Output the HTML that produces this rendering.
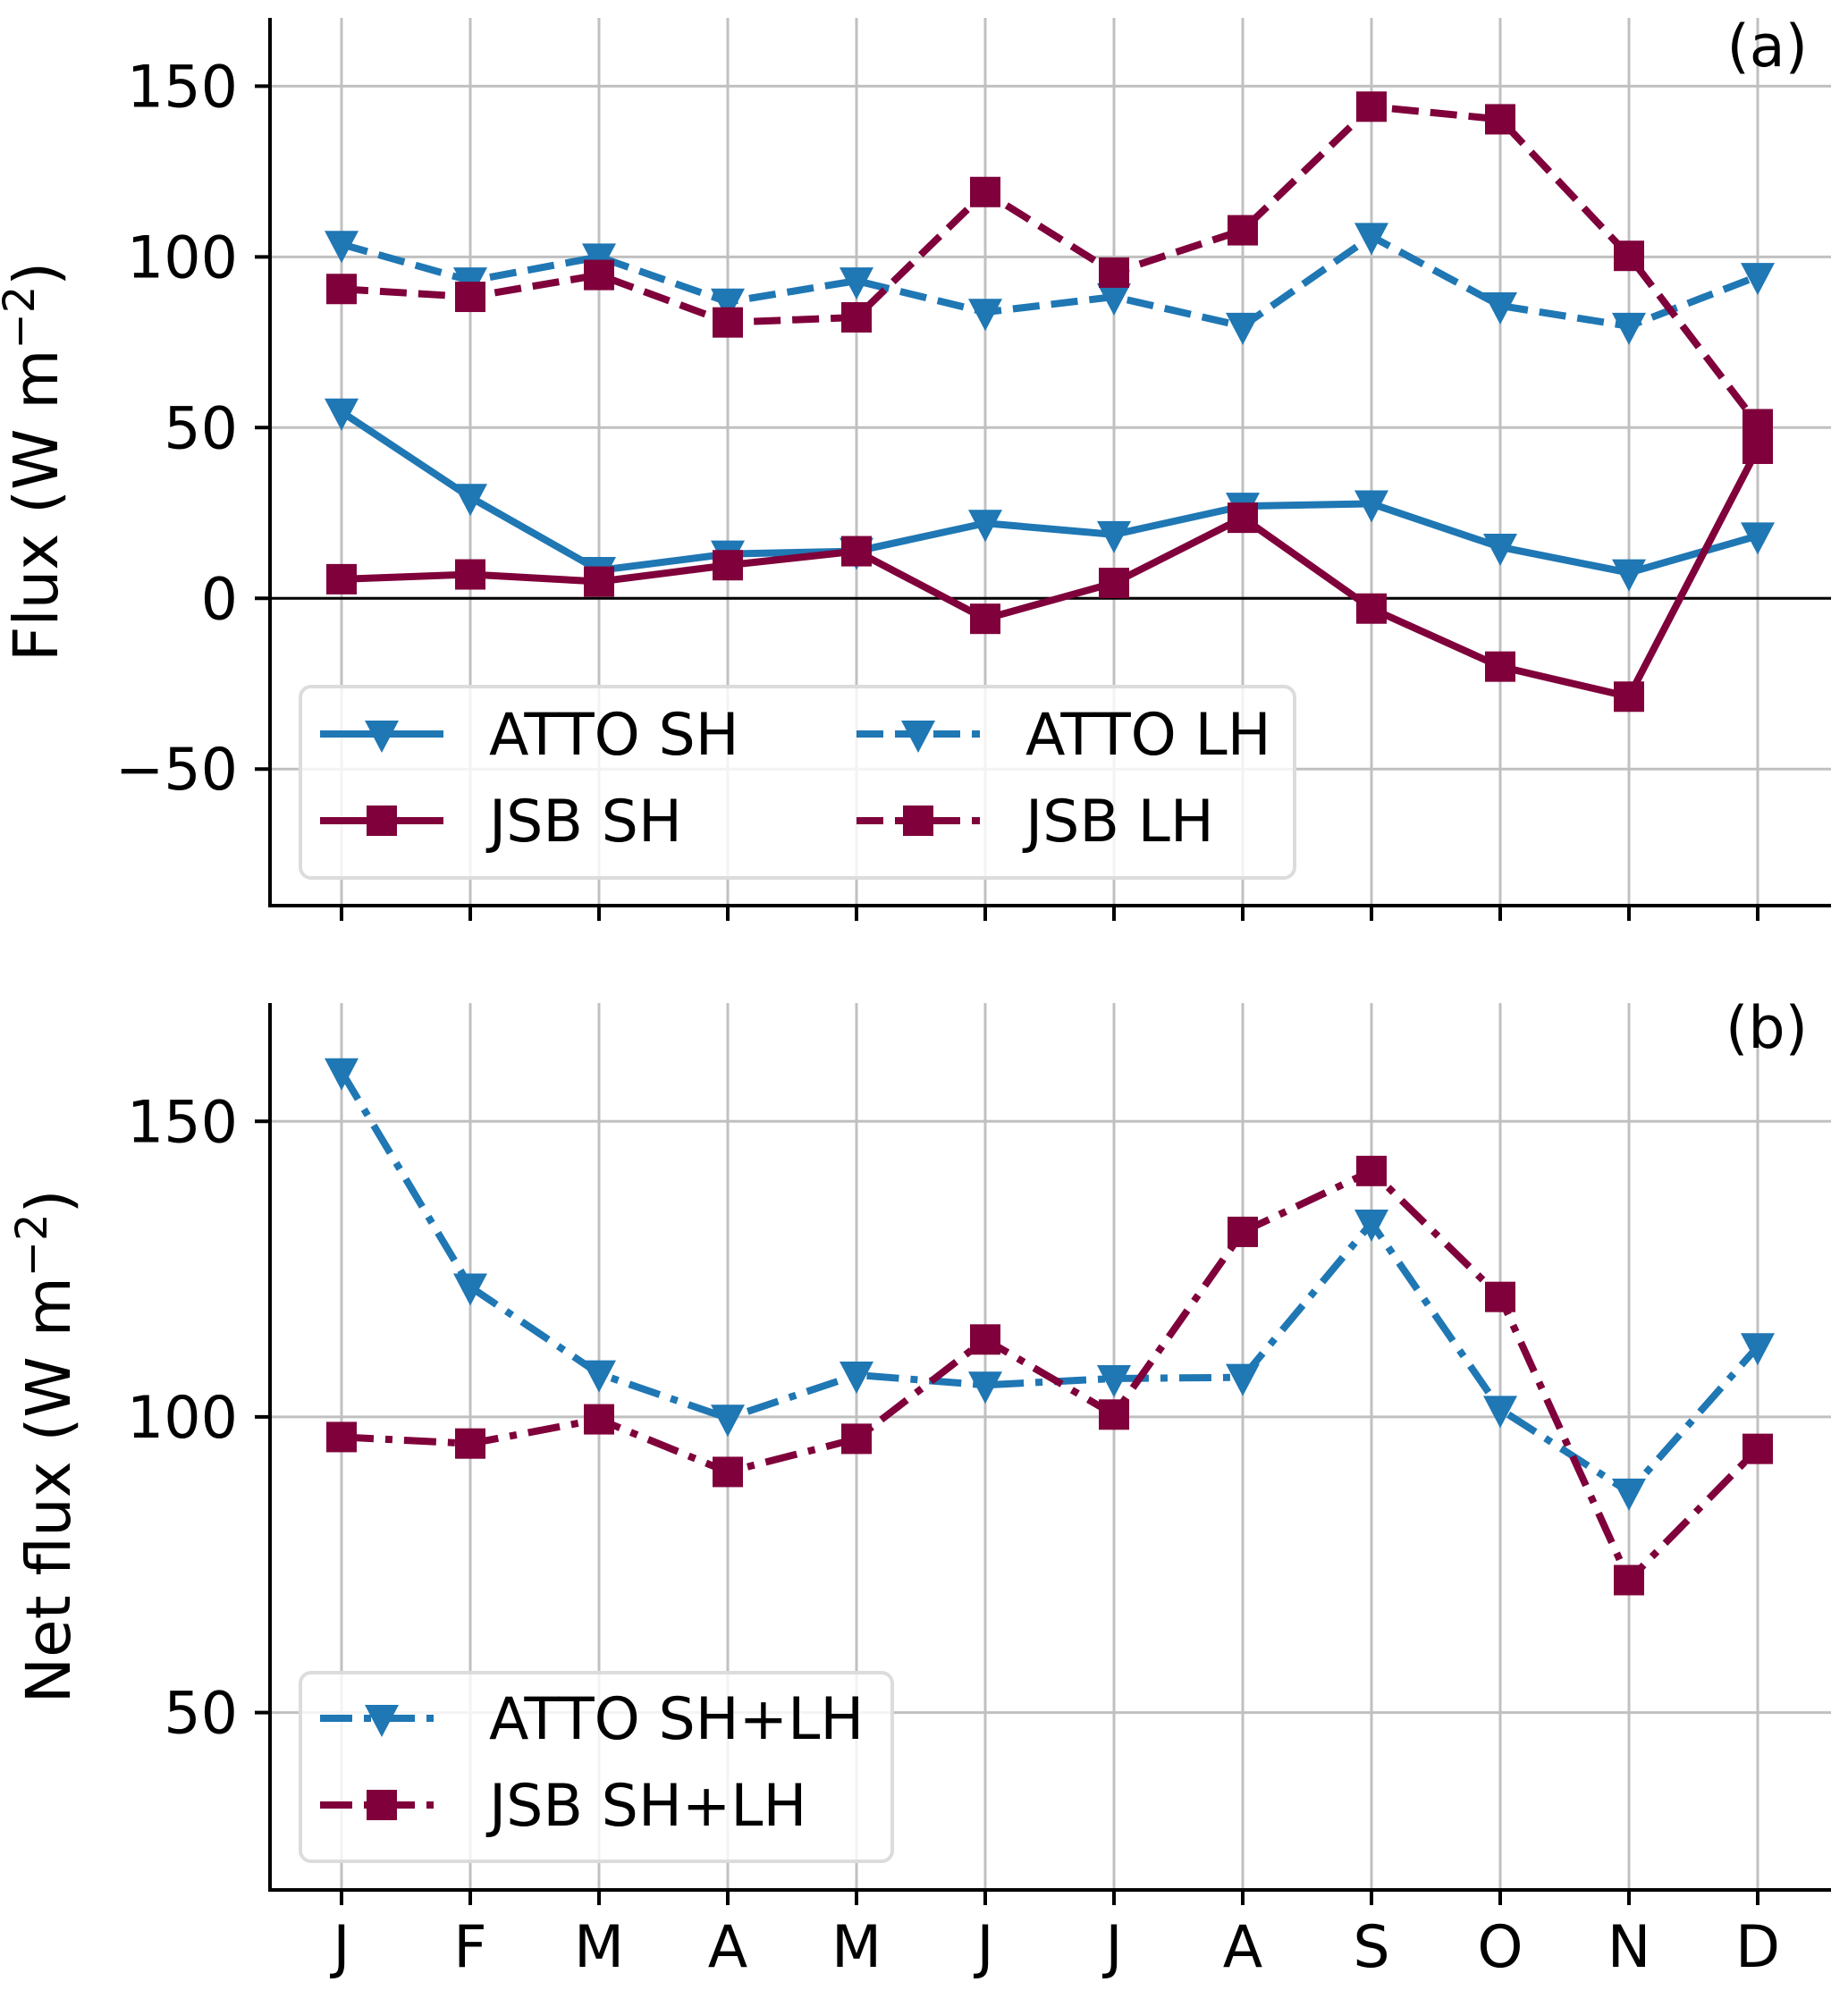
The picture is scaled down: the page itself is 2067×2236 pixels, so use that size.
<!DOCTYPE html>
<html><head><meta charset="utf-8"><style>
html,body{margin:0;padding:0;background:#fff;}
svg{display:block;font-family:"DejaVu Sans","Liberation Sans",sans-serif;}
</style></head><body>
<svg id="chart" width="2067" height="2236" viewBox="0 0 2067 2236" xmlns="http://www.w3.org/2000/svg"></svg>
<script>
const months = ["J","F","M","A","M","J","J","A","S","O","N","D"];
const attoSH = [54.6,29.6,8.2,13,13.8,22,18.7,27,27.7,15,7.5,18.3];
const jsbSH = [5.6,7,4.9,9.7,13.8,-6,4.5,23.6,-3,-20,-28.8,43.8];
const attoLH = [103.7,93,100,86.8,93,83.8,88.3,79.7,106,85.7,79.7,94.3];
const jsbLH = [90.6,88.3,94.7,80.8,82.3,119,95.4,107.8,144,140.3,100.3,51];
const attoNet = [158.4,122,107.3,99.8,107.1,105.4,106.5,106.7,132.8,101.3,87.3,111.9];
const jsbNet = [96.6,95.5,99.6,90.7,96.3,113.1,100.4,131.3,141.6,120.3,72.4,94.6];
const ticksA = [-50,0,50,100,150];
const ticksB = [50,100,150];

const BLUE="#1f77b4", RED="#7f003a";
const FS=65;
const NS="http://www.w3.org/2000/svg";
const svg=document.getElementById('chart');
function mk(tag,attrs,parent){const e=document.createElementNS(NS,tag);for(const k in attrs)e.setAttribute(k,attrs[k]);(parent||svg).appendChild(e);return e;}
const L=302,R=2048;
const xs=i=>382+i*144;

function panel(name,top,bottom,ymin,ymax,ticks,ylabel,ylabelX,tag,tagY){
  const g=mk('g',{});
  
  
  const ys=v=>bottom-(v-ymin)/(ymax-ymin)*(bottom-top);
  months.forEach((m,i)=>{const l=mk('line',{x1:xs(i),x2:xs(i),y1:top,y2:bottom,stroke:'#c0c0c0','stroke-width':3},g);
    });
  ticks.forEach(t=>{const l=mk('line',{x1:L,x2:R,y1:ys(t),y2:ys(t),stroke:'#c0c0c0','stroke-width':3},g);
    
    const tk=mk('line',{x1:L-17,x2:L,y1:ys(t),y2:ys(t),stroke:'#000','stroke-width':4},g);
    
    const tx=mk('text',{x:L-36,y:ys(t)+23,'text-anchor':'end','font-size':FS},g);
    tx.textContent=t<0?'\u2212'+Math.abs(t):String(t);
    });
  months.forEach((m,i)=>{const tk=mk('line',{x1:xs(i),x2:xs(i),y1:bottom,y2:bottom+17,stroke:'#000','stroke-width':4},g);
    });
  const sl=mk('line',{x1:L,x2:L,y1:top,y2:bottom+2,stroke:'#000','stroke-width':4},g);
  
  const sb=mk('line',{x1:L-2,x2:R,y1:bottom,y2:bottom,stroke:'#000','stroke-width':4},g);
  
  const yl=mk('text',{x:0,y:0,'text-anchor':'middle','font-size':69,transform:`translate(${ylabelX},${(top+bottom)/2}) rotate(-90)`},g);
  yl.innerHTML=ylabel+' (W m<tspan dy="-26" font-size="48">\u22122</tspan><tspan dy="26">)</tspan>';
  
  const pt=mk('text',{x:2022,y:tagY+23,'text-anchor':'end','font-size':FS},g);
  pt.textContent=tag;
  return {g,ys};
}
function marker(g,type,x,y,color){
  let m;
  if(type==='sq') m=mk('rect',{x:x-17,y:y-17,width:34,height:34,fill:color},g);
  else m=mk('polygon',{points:`${x-19},${y-15} ${x+19},${y-15} ${x},${y+21}`,fill:color},g);
  return m;
}
function series(g,ys,vals,color,dash,type,name){
  const sg=mk('g',{},g);
  
  
  const p=mk('polyline',{points:vals.map((v,i)=>xs(i)+','+ys(v)).join(' '),fill:'none',stroke:color,'stroke-width':8,'stroke-dasharray':dash,'stroke-linejoin':'round'},sg);
  
  vals.forEach((v,i)=>{const m=marker(sg,type,xs(i),ys(v),color);
    });
}
function legend(box,entries){
  const lg=mk('g',{});
  
  
  const r=mk('rect',{x:box[0],y:box[1],width:box[2],height:box[3],rx:12,fill:'#fff','fill-opacity':0.8,stroke:'#dcdcdc','stroke-width':4},lg);
  
  entries.forEach(e=>{const eg=mk('g',{},lg);
    
    mk('line',{x1:e.x,x2:e.x+138,y1:e.y,y2:e.y,stroke:e.c,'stroke-width':8,'stroke-dasharray':e.d},eg);
    marker(eg,e.t,e.x+69,e.y,e.c);
    const t=mk('text',{x:e.x+189,y:e.y+23,'font-size':FS},eg);t.textContent=e.label;});
}
const A=panel('panel-a',20,1013,-90,170,ticksA,'Flux',64,'(a)',51);
const z=mk('line',{x1:L,x2:R,y1:A.ys(0),y2:A.ys(0),stroke:'#000','stroke-width':3},A.g);

series(A.g,A.ys,attoLH,BLUE,'30 13','tri','atto-lh');
series(A.g,A.ys,jsbLH,RED,'30 13','sq','jsb-lh');
series(A.g,A.ys,attoSH,BLUE,'','tri','atto-sh');
series(A.g,A.ys,jsbSH,RED,'','sq','jsb-sh');
legend([336,768,1112,214],[
 {x:358,y:821,c:BLUE,d:'',t:'tri',label:'ATTO SH'},
 {x:358,y:918,c:RED,d:'',t:'sq',label:'JSB SH'},
 {x:958,y:821,c:BLUE,d:'30 13',t:'tri',label:'ATTO LH'},
 {x:958,y:918,c:RED,d:'30 13',t:'sq',label:'JSB LH'}]);
const B=panel('panel-b',1122,2114,20,170,ticksB,'Net flux',78,'(b)',1149);
series(B.g,B.ys,attoNet,BLUE,'36 13 8 13','tri','atto-net');
series(B.g,B.ys,jsbNet,RED,'36 13 8 13','sq','jsb-net');
months.forEach((m,i)=>{const t=mk('text',{x:xs(i),y:2200,'text-anchor':'middle','font-size':FS});
  t.textContent=m;
  
  });
legend([336,1871,662,211],[
 {x:358,y:1922,c:BLUE,d:'36 13 8 13',t:'tri',label:'ATTO SH+LH'},
 {x:358,y:2019,c:RED,d:'36 13 8 13',t:'sq',label:'JSB SH+LH'}]);
</script>
</body></html>
